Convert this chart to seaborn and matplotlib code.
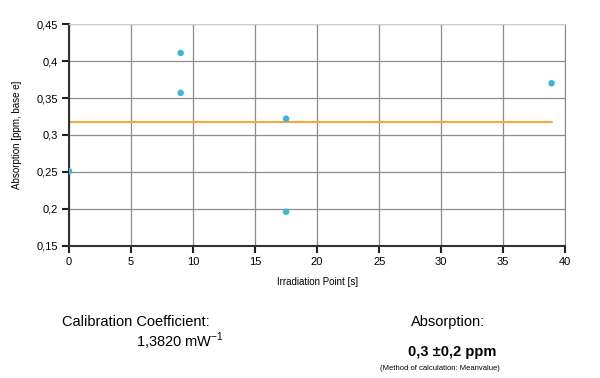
import numpy as np
import pandas as pd
import seaborn as sns
import matplotlib
matplotlib.use("Agg")
import matplotlib.pyplot as plt

# Measured points
irradiation = [0, 9, 9, 17.5, 17.5, 38.9]
absorption = [0.251, 0.411, 0.357, 0.322, 0.196, 0.370]

# Mean value line
mean_x = [0, 38.9]
mean_y = [0.318, 0.318]

x_ticks = [0, 5, 10, 15, 20, 25, 30, 35, 40]
y_ticks = [0.15, 0.2, 0.25, 0.3, 0.35, 0.4, 0.45]

sns.set_style("white")
plt.rcParams["font.family"] = ["Liberation Sans", "DejaVu Sans"]
plt.rcParams["mathtext.fontset"] = "custom"
plt.rcParams["mathtext.rm"] = "Liberation Sans"
plt.rcParams["text.color"] = "black"
plt.rcParams["axes.labelcolor"] = "black"
plt.rcParams["xtick.color"] = "black"
plt.rcParams["ytick.color"] = "black"

df = pd.DataFrame({"x": irradiation, "y": absorption})
df_mean = pd.DataFrame({"x": mean_x, "y": mean_y})

fig = plt.figure(figsize=(6, 3.78), dpi=100)
ax = fig.add_axes([0.115, 0.35, 0.827, 0.586])

ax.grid(True, color="#8c8c8c", linewidth=0.9)
ax.set_axisbelow(True)

sns.lineplot(data=df_mean, x="x", y="y", color="#f5a83a", linewidth=1.5, ax=ax)
sns.scatterplot(data=df, x="x", y="y", color="#3cb6d8", s=22, edgecolor="none", ax=ax, zorder=3)

ax.set_xlim(0, 40)
ax.set_ylim(0.15, 0.45)
ax.set_xticks(x_ticks)
ax.set_yticks(y_ticks)
ax.set_xticklabels([str(t) for t in x_ticks], fontsize=8)
ax.set_yticklabels([f"{t:g}".replace(".", ",") for t in y_ticks], fontsize=8)
ax.tick_params(axis="both", which="major", bottom=True, left=True, direction="out",
               length=5, width=1.5, color="#222222", labelcolor="black", pad=3)

ax.set_xlabel("Irradiation Point [s]", fontsize=7, labelpad=7)
ax.set_ylabel("Absorption [ppm, base e]", fontsize=7, labelpad=10)

for side in ["left", "bottom"]:
    ax.spines[side].set_color("#333333")
    ax.spines[side].set_linewidth(1.5)
ax.spines["top"].set_color("#cccccc")
ax.spines["right"].set_color("#8c8c8c")

fig.text(0.227, 0.149, "Calibration Coefficient:", fontsize=10.5, ha="center", va="center")
fig.text(0.30, 0.097, r"1,3820 mW$^{-1}$", fontsize=10.5, ha="center", va="center")
fig.text(0.747, 0.149, "Absorption:", fontsize=10.5, ha="center", va="center")
fig.text(0.753, 0.070, "0,3 ±0,2 ppm", fontsize=10.5, fontweight="bold", ha="center", va="center")
fig.text(0.733, 0.024, "(Method of calculation: Meanvalue)", fontsize=5.5, ha="center", va="center")

fig.savefig("out.png", dpi=100)
